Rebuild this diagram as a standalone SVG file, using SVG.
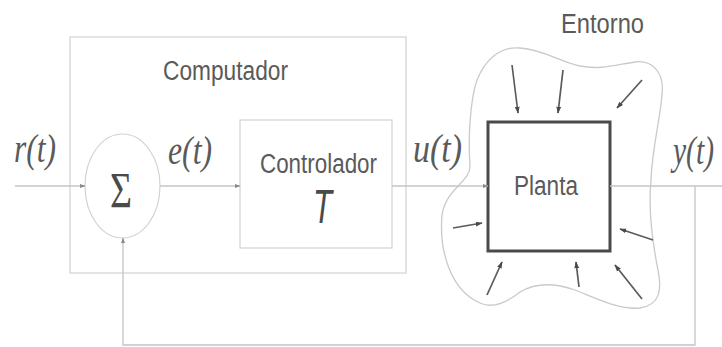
<svg xmlns="http://www.w3.org/2000/svg" width="722" height="347" viewBox="0 0 722 347">
  <defs>
    <style>
      .frame { fill: none; stroke: #d2d2d2; stroke-width: 1.2; }
      .wire { fill: none; stroke: #c4c4c4; stroke-width: 1.3; }
      .cloud { fill: none; stroke: #cacaca; stroke-width: 1.3; }
      .plant { fill: #ffffff; stroke: #4a4a4a; stroke-width: 3; }
      .dist { fill: none; stroke: #5a5a5a; stroke-width: 1.7; }
      .lbl { font-family: "Liberation Sans", Arial, sans-serif; font-size: 27px; fill: #5a5a5a; }
      .sig { font-family: "Liberation Serif", "Times New Roman", serif; font-style: italic; font-size: 40px; fill: #5a5a5a; }
    </style>
    <marker id="tip" viewBox="0 0 10 10" refX="9" refY="5" markerWidth="6" markerHeight="6" orient="auto" markerUnits="userSpaceOnUse">
      <path d="M0,1.5 L10,5 L0,8.5 Z" fill="#8a8a8a"/>
    </marker>
    <marker id="dtip" viewBox="0 0 10 10" refX="9" refY="5" markerWidth="7" markerHeight="7" orient="auto" markerUnits="userSpaceOnUse">
      <path d="M0,1.5 L10,5 L0,8.5 Z" fill="#4a4a4a"/>
    </marker>
  </defs>

  <!-- computer boundary -->
  <g id="computador">
    <rect class="frame" x="70" y="37" width="336" height="236"/>
    <text class="lbl" x="163" y="80" textLength="125" lengthAdjust="spacingAndGlyphs">Computador</text>
  </g>

  <!-- environment around the plant -->
  <g id="entorno">
    <path class="cloud" d="M477,80 C470,100 468,140 470,165 C471,182 446,188 442,215 C439,250 450,290 480,303 C495,310 510,300 520,292 C535,283 555,283 575,290 C600,300 620,310 640,308 C660,305 662,290 658,270 C652,240 648,210 651,180 C652,150 660,120 662,95 C665,70 650,60 635,62 C615,65 600,70 580,66 C560,62 545,50 520,48 C500,46 485,60 477,80 Z"/>
    <text class="lbl" x="561" y="33" textLength="83" lengthAdjust="spacingAndGlyphs">Entorno</text>
    <g id="perturbaciones">
      <line class="dist" x1="512" y1="65" x2="518" y2="113" marker-end="url(#dtip)"/>
      <line class="dist" x1="563" y1="70" x2="558" y2="113" marker-end="url(#dtip)"/>
      <line class="dist" x1="642" y1="80" x2="617" y2="108" marker-end="url(#dtip)"/>
      <line class="dist" x1="453" y1="228" x2="482" y2="223" marker-end="url(#dtip)"/>
      <line class="dist" x1="653" y1="240" x2="620" y2="229" marker-end="url(#dtip)"/>
      <line class="dist" x1="487" y1="295" x2="502" y2="262" marker-end="url(#dtip)"/>
      <line class="dist" x1="579" y1="287" x2="576" y2="262" marker-end="url(#dtip)"/>
      <line class="dist" x1="642" y1="299" x2="615" y2="265" marker-end="url(#dtip)"/>
    </g>
  </g>

  <!-- summing junction -->
  <g id="sumador">
    <ellipse class="frame" cx="122.5" cy="186" rx="37.5" ry="52"/>
    <text x="110" y="207" font-family="Liberation Serif, Times New Roman, serif" font-size="50" fill="#4a4a4a" textLength="22" lengthAdjust="spacingAndGlyphs">Σ</text>
  </g>

  <!-- controller block -->
  <g id="controlador">
    <rect class="frame" x="240" y="120" width="152" height="128"/>
    <text class="lbl" x="260" y="173" textLength="117" lengthAdjust="spacingAndGlyphs">Controlador</text>
    <text x="313" y="223" font-family="Liberation Sans, Arial, sans-serif" font-style="italic" font-size="48" fill="#4a4a4a" textLength="19" lengthAdjust="spacingAndGlyphs">T</text>
  </g>

  <!-- plant block -->
  <g id="planta">
    <rect class="plant" x="488" y="122" width="122" height="129"/>
    <text class="lbl" x="514" y="195" textLength="64" lengthAdjust="spacingAndGlyphs">Planta</text>
  </g>

  <!-- signal wiring -->
  <g id="conectores">
    <line class="wire" x1="15" y1="186" x2="85" y2="186" marker-end="url(#tip)"/>
    <line class="wire" x1="160" y1="186" x2="240" y2="186" marker-end="url(#tip)"/>
    <line class="wire" x1="392" y1="186" x2="488" y2="186" marker-end="url(#tip)"/>
    <line class="wire" x1="610" y1="186" x2="722" y2="186"/>
    <polyline class="wire" points="695,186 695,345 123,345 123,238" marker-end="url(#tip)"/>
  </g>

  <!-- signal labels -->
  <g id="senales">
    <text class="sig" x="14" y="162" textLength="42" lengthAdjust="spacingAndGlyphs">r(t)</text>
    <text class="sig" x="168" y="164" textLength="44" lengthAdjust="spacingAndGlyphs">e(t)</text>
    <text class="sig" x="413" y="162" textLength="49" lengthAdjust="spacingAndGlyphs">u(t)</text>
    <text class="sig" x="673" y="164" textLength="41" lengthAdjust="spacingAndGlyphs">y(t)</text>
  </g>
</svg>
